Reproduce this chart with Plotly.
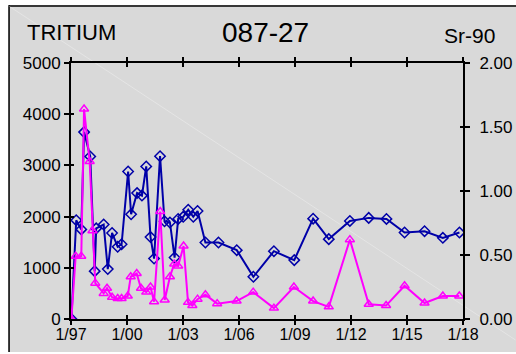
import plotly.graph_objects as go

# sample dates as decimal years
tritium_t = [1997.02, 1997.28, 1997.55, 1997.70, 1998.03, 1998.27, 1998.35, 1998.75, 1998.97,
             1999.20, 1999.50, 1999.71, 2000.06, 2000.22, 2000.54, 2000.80, 2001.03, 2001.26,
             2001.45, 2001.77, 2002.01, 2002.30, 2002.55, 2002.74, 2003.01, 2003.28, 2003.55,
             2003.78, 2004.20, 2004.90, 2005.88, 2006.77, 2007.87, 2008.96, 2009.97, 2010.81,
             2011.94, 2012.95, 2013.90, 2014.87, 2015.94, 2016.92, 2017.81]
tritium = [0, 1930, 1750, 3650, 3175, 935, 1770, 1845, 975,
           1680, 1410, 1460, 2880, 2045, 2460, 2410, 2980, 1600,
           1180, 3180, 1910, 1885, 1200, 1955, 1995, 2135, 1995,
           2110, 1495, 1495, 1345, 825, 1325, 1150, 1960, 1560,
           1915, 1975, 1955, 1690, 1715, 1585, 1690]

sr90_t = [1997.02, 1997.25, 1997.55, 1997.70, 1998.00, 1998.15, 1998.30, 1998.75, 1998.93,
          1999.20, 1999.50, 1999.71, 2000.04, 2000.20, 2000.52, 2000.75, 2001.03, 2001.26,
          2001.45, 2001.78, 2002.02, 2002.30, 2002.53, 2002.74, 2003.03, 2003.27, 2003.50,
          2003.78, 2004.20, 2004.83, 2005.87, 2006.76, 2007.87, 2008.94, 2009.97, 2010.81,
          2011.94, 2012.95, 2013.88, 2014.87, 2015.94, 2016.92, 2017.80]
sr90 = [0.0, 0.49, 0.49, 1.64, 1.23, 0.69, 0.28, 0.20, 0.24,
        0.17, 0.16, 0.16, 0.18, 0.33, 0.355, 0.24, 0.21, 0.25,
        0.135, 0.84, 0.148, 0.33, 0.43, 0.415, 0.57, 0.13, 0.105,
        0.155, 0.19, 0.12, 0.14, 0.21, 0.085, 0.25, 0.14, 0.095,
        0.62, 0.115, 0.105, 0.26, 0.125, 0.18, 0.18]

year_ticks = [1997, 2000, 2003, 2006, 2009, 2012, 2015, 2018]
year_labels = ["1/97", "1/00", "1/03", "1/06", "1/09", "1/12", "1/15", "1/18"]

FONT = "Arial, Liberation Sans, sans-serif"
BLUE = "#0000A8"
PINK = "#FF00FF"

fig = go.Figure()
fig.add_trace(go.Scatter(
    x=tritium_t, y=tritium, mode="lines+markers", name="Tritium",
    line=dict(color=BLUE, width=2),
    marker=dict(symbol="diamond-open", size=8, color=BLUE, line=dict(width=1.5)),
))
fig.add_trace(go.Scatter(
    x=sr90_t, y=sr90, mode="lines+markers", name="Sr-90", yaxis="y2",
    line=dict(color=PINK, width=2),
    marker=dict(symbol="triangle-up-open", size=8, color=PINK, line=dict(width=1.5)),
))
# empty traces so the overlay axes (inner half of the cross ticks) get drawn
fig.add_trace(go.Scatter(x=[], y=[], xaxis="x2", yaxis="y3", showlegend=False, hoverinfo="skip"))
fig.add_trace(go.Scatter(x=[], y=[], xaxis="x2", yaxis="y4", showlegend=False, hoverinfo="skip"))

axis_common = dict(showgrid=False, zeroline=False, showline=True, linecolor="black", linewidth=2,
                   tickcolor="black", tickwidth=2, automargin=False)

fig.update_layout(
    width=516, height=354,
    margin=dict(l=71, r=53, t=63, b=35),
    paper_bgcolor="white", plot_bgcolor="rgba(0,0,0,0)",
    showlegend=False,
    font=dict(family=FONT, color="black"),
    xaxis=dict(range=[1997, 2018], tickvals=year_ticks, ticktext=year_labels, ticks="outside",
               ticklen=4, mirror="allticks", tickfont=dict(size=16), ticklabelstandoff=-4,
               **axis_common),
    xaxis2=dict(range=[1997, 2018], tickvals=year_ticks, ticks="inside", ticklen=4, mirror="allticks",
                showticklabels=False, overlaying="x", anchor="y", **axis_common),
    yaxis=dict(range=[0, 5000], dtick=1000, ticks="outside", ticklen=5, tickfont=dict(size=17),
               **axis_common),
    yaxis2=dict(range=[0, 2], dtick=0.5, tickformat=".2f", ticks="outside", ticklen=5, side="right",
                overlaying="y", anchor="x", tickfont=dict(size=17), ticklabelstandoff=6,
                **axis_common),
    yaxis3=dict(range=[0, 5000], dtick=1000, ticks="inside", ticklen=3, showticklabels=False,
                overlaying="y", anchor="x2", side="left", **axis_common),
    yaxis4=dict(range=[0, 2], dtick=0.5, ticks="inside", ticklen=3, showticklabels=False,
                overlaying="y", anchor="x2", side="right", **axis_common),
    shapes=[
        dict(type="rect", xref="paper", yref="paper", x0=-0.1607, x1=1.2, y0=-0.1289, y1=1.2266,
             fillcolor="#D9D9D9", line=dict(width=0), layer="below"),
        dict(type="line", xref="paper", yref="paper", x0=-0.158, x1=-0.158, y0=-0.1289, y1=1.2266,
             line=dict(color="black", width=1.5), layer="below"),
        dict(type="line", xref="paper", yref="paper", x0=-0.158, x1=1.2, y0=1.2227, y1=1.2227,
             line=dict(color="black", width=1.5), layer="below"),
        dict(type="line", xref="paper", yref="paper", x0=-0.16, x1=1.134, y0=1.224, y1=-0.082,
             line=dict(color="rgba(255,255,255,0.3)", width=1), layer="below"),
    ],
    annotations=[
        dict(text="TRITIUM", xref="paper", yref="paper", x=0.0, y=1.121, xanchor="center",
             yanchor="middle", showarrow=False, font=dict(size=22)),
        dict(text="087-27", xref="paper", yref="paper", x=0.497, y=1.121, xanchor="center",
             yanchor="middle", showarrow=False, font=dict(size=28)),
        dict(text="Sr-90", xref="paper", yref="paper", x=1.017, y=1.109, xanchor="center",
             yanchor="middle", showarrow=False, font=dict(size=21)),
    ],
)

# drop the page's default 8px body margin so the 516x354 figure fills the window
fig.write_html("out.html", config={"displayModeBar": False},
               post_script="document.body.style.margin='0';document.body.style.overflow='hidden';")
